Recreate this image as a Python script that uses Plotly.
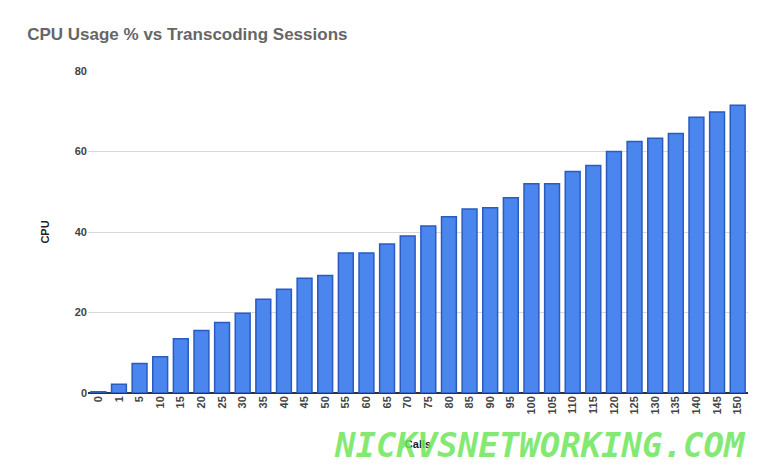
import plotly.graph_objects as go

calls = ["0", "1", "5", "10", "15", "20", "25", "30", "35", "40", "45", "50", "55", "60", "65", "70",
         "75", "80", "85", "90", "95", "100", "105", "110", "115", "120", "125", "130", "135", "140", "145", "150"]
cpu = [0.3, 2.2, 7.3, 9, 13.5, 15.5, 17.5, 19.8, 23.3, 25.8, 28.5, 29.2, 34.8, 34.8, 37, 39,
       41.5, 43.8, 45.7, 46, 48.5, 52, 52, 55, 56.5, 60, 62.5, 63.3, 64.5, 68.5, 69.8, 71.5]

fig = go.Figure(go.Bar(
    x=calls, y=cpu,
    marker=dict(color="#4a86ee", line=dict(color="#2a5bbf", width=1.5)),
    width=0.72,
))

fig.update_layout(
    width=768, height=475,
    paper_bgcolor="white", plot_bgcolor="white",
    margin=dict(l=80, r=28, t=63, b=90, autoexpand=False),
    title=dict(text="<b>CPU Usage % vs Transcoding Sessions</b>", x=0.025, xanchor="left",
               y=0.945, yanchor="middle",
               font=dict(family="Liberation Sans", size=17, color="#666666")),
    showlegend=False,
    bargap=0.28,
    font=dict(family="Liberation Sans", color="#333333"),
)
fig.update_xaxes(type="category", tickangle=-90, tickfont=dict(size=11, color="#444444"),
                 title=dict(text="<b>Calls</b>", font=dict(size=11, color="#222222"), standoff=26),
                 showgrid=False, showline=False, ticks="",
                 tickprefix="<b>", ticksuffix="</b>")
fig.update_yaxes(range=[0, 80], dtick=20, tickfont=dict(size=11, color="#444444"),
                 title=dict(text="<b>CPU</b>", font=dict(size=11, color="#222222"), standoff=22),
                 gridcolor="#d9d9d9", zeroline=True, zerolinecolor="#333333", zerolinewidth=1.5,
                 tickprefix="<b>", ticksuffix="</b>")

fig.add_annotation(text="<b><i>NICKVSNETWORKING.COM</i></b>", xref="paper", yref="paper",
                   x=1.0, y=-0.16, xanchor="right", yanchor="middle", showarrow=False,
                   font=dict(family="DejaVu Sans Mono", size=34, color="rgba(110,230,90,0.85)"))

fig.write_html("out.html")
